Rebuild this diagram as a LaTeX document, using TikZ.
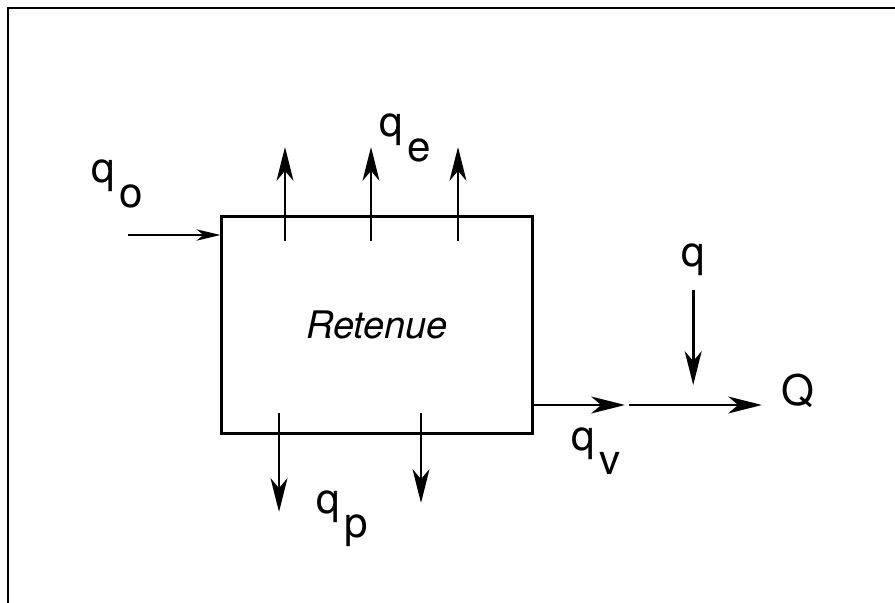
\documentclass[tikz,border=0pt]{standalone}
\usepackage{fontspec}
\setmainfont{TeX Gyre Heros}
\usetikzlibrary{arrows.meta}
\newcommand{\qsub}[1]{q\kern3pt\raisebox{-0.58em}{#1}}

\begin{document}
\begin{tikzpicture}[x=0.025cm, y=-0.025cm, line width=2.1pt,
  every node/.style={font=\fontsize{30pt}{36pt}\selectfont, inner sep=0pt},
  flow/.style={-{Stealth[length=24pt,width=12pt,inset=7pt]}},
  flowin/.style={-{Stealth[length=17pt,width=8pt,inset=5pt]}}]
\useasboundingbox (0,0) rectangle (895,603);
\draw[line width=1.5pt] (8,603) -- (8,8) -- (895,8);
\node[draw,minimum width=7.75cm,minimum height=5.4cm,font=\fontsize{27pt}{32pt}\selectfont\itshape] (ret) at (377,325) {Retenue};
% apport
\coordinate (in) at (128,235);
\node[anchor=base west] (qo) at (90,183) {\qsub{o}};
\draw[flowin] (in) -- (in -| ret.west);
% evaporation
\coordinate (e1) at (285,147);
\coordinate (e2) at (371,147);
\coordinate (e3) at (458,147);
\node[anchor=base west] (qe) at (378,137) {\qsub{e}};
\draw[flow] ([yshift=-0.625cm]e1 |- ret.north) -- (e1);
\draw[flow] ([yshift=-0.625cm]e2 |- ret.north) -- (e2);
\draw[flow] ([yshift=-0.625cm]e3 |- ret.north) -- (e3);
% pertes
\coordinate (p1) at (279,512);
\coordinate (p2) at (421,503);
\node[anchor=base west] (qp) at (315,513) {\qsub{p}};
\draw[flow] ([yshift=0.525cm]p1 |- ret.south) -- (p1);
\draw[flow] ([yshift=0.525cm]p2 |- ret.south) -- (p2);
% deversement
\coordinate (out) at (625,405);
\node[anchor=base west] (qv) at (570,450) {\qsub{v}};
\node[anchor=base west] (Q) at (780,405) {Q};
\node[anchor=base west] (qlat) at (680,267) {q};
\draw[flow] (out -| ret.east) -- (out);
\draw[flow,shorten >=0.45cm] ([xshift=0.1cm]out) -- (out -| Q.west);
\draw[flow,shorten <=0.3cm,shorten >=0.5cm] (qlat.south) -- (qlat.south |- out);
\end{tikzpicture}
\end{document}
